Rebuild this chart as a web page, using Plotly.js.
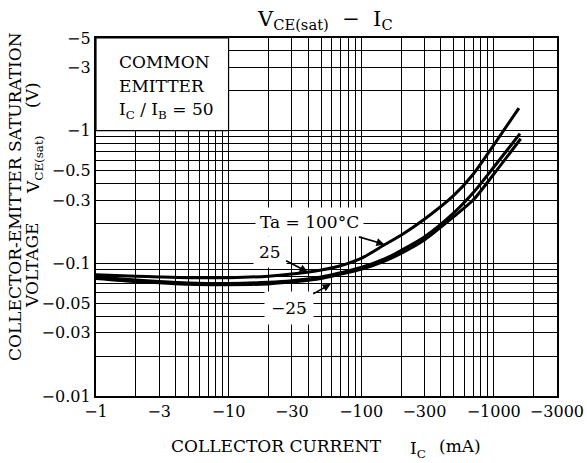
<!DOCTYPE html>
<html><head><meta charset="utf-8">
<script src="https://cdn.plot.ly/plotly-3.0.1.min.js"></script>
<style>html,body{margin:0;padding:0;background:#fff}#chart{width:587px;height:463px}</style>
</head><body><div id="chart"></div>
<script>
// Collector current |IC| (mA) and saturation voltage |VCE(sat)| (V), plotted as magnitudes
const ic100 = [1, 2, 3, 5, 10, 20, 30, 50, 70, 100, 150, 200, 300, 500, 700, 1000, 1550];
const vce100 = [0.082, 0.080, 0.079, 0.078, 0.078, 0.080, 0.083, 0.089, 0.096, 0.109, 0.138, 0.163, 0.215, 0.325, 0.47, 0.78, 1.48];
const ic25 = [1, 2, 3, 5, 10, 20, 30, 50, 70, 100, 150, 200, 300, 500, 700, 1000, 1580];
const vce25 = [0.079, 0.075, 0.073, 0.0712, 0.0705, 0.072, 0.074, 0.079, 0.085, 0.093, 0.108, 0.125, 0.158, 0.24, 0.34, 0.53, 0.95];
const icM25 = [1, 2, 3, 5, 10, 20, 30, 50, 70, 100, 150, 200, 300, 500, 700, 1000, 1600];
const vceM25 = [0.077, 0.073, 0.0715, 0.0695, 0.069, 0.070, 0.0725, 0.077, 0.083, 0.090, 0.104, 0.119, 0.150, 0.225, 0.30, 0.47, 0.87];

// grid / tick values
const xGrid = [1,2,3,4,5,6,7,8,9,10,20,30,40,50,60,70,80,90,100,200,300,400,500,600,700,800,900,1000,2000,3000];
const xLabeled = [1, 3, 10, 30, 100, 300, 1000, 3000];
const yGrid = [0.01,0.02,0.03,0.04,0.05,0.06,0.07,0.08,0.09,0.1,0.2,0.3,0.4,0.5,0.6,0.7,0.8,0.9,1,2,3,4,5];
const yLabeled = [0.01, 0.03, 0.05, 0.1, 0.3, 0.5, 1, 3, 5];

const FONT = 'DejaVu Serif';
const M = {l: 96, r: 30, t: 38, b: 67};
const W = 587, H = 463;
const PW = W - M.l - M.r, PH = H - M.t - M.b;
const px = x => (x - M.l) / PW;
const py = y => (M.t + PH - y) / PH;

const xRange = [0, Math.log10(3000) + 0.0005];
const yRange = [-2, Math.log10(5)];

function lbl(v) { return '\u2212' + String(v); }

const line = {color: '#000', width: 3, shape: 'spline', smoothing: 0.7};
const traces = [
  {x: ic100, y: vce100, mode: 'lines', line: line, name: '100', hoverinfo: 'skip'},
  {x: ic25, y: vce25, mode: 'lines', line: line, name: '25', hoverinfo: 'skip'},
  {x: icM25, y: vceM25, mode: 'lines', line: line, name: '-25', hoverinfo: 'skip'}
];

const tf = {family: FONT, size: 16, color: '#000'};
const af = {family: FONT, size: 17, color: '#000'};

const annotations = [
  // title
  {text: 'V<sub>CE(sat)</sub>  \u2212  I<sub>C</sub>', xref: 'paper', yref: 'paper', x: px(325), y: py(20),
   showarrow: false, font: {family: FONT, size: 21, color: '#000'}, xanchor: 'center', yanchor: 'middle'},
  // y-axis title pieces
  {text: 'COLLECTOR-EMITTER SATURATION', xref: 'paper', yref: 'paper', x: px(15), y: py(197),
   textangle: -90, showarrow: false, font: af, xanchor: 'center', yanchor: 'middle'},
  {text: 'VOLTAGE', xref: 'paper', yref: 'paper', x: px(32), y: py(265),
   textangle: -90, showarrow: false, font: af, xanchor: 'center', yanchor: 'middle'},
  {text: 'V<sub>CE(sat)</sub>', xref: 'paper', yref: 'paper', x: px(34), y: py(165),
   textangle: -90, showarrow: false, font: af, xanchor: 'center', yanchor: 'middle'},
  {text: '(V)', xref: 'paper', yref: 'paper', x: px(32), y: py(95),
   textangle: -90, showarrow: false, font: af, xanchor: 'center', yanchor: 'middle'},
  // x-axis title pieces
  {text: 'COLLECTOR CURRENT', xref: 'paper', yref: 'paper', x: px(276), y: py(446),
   showarrow: false, font: af, xanchor: 'center', yanchor: 'middle'},
  {text: 'I<sub>C</sub>', xref: 'paper', yref: 'paper', x: px(418), y: py(449),
   showarrow: false, font: af, xanchor: 'center', yanchor: 'middle'},
  {text: '(mA)', xref: 'paper', yref: 'paper', x: px(460), y: py(446),
   showarrow: false, font: af, xanchor: 'center', yanchor: 'middle'},
  // condition box text
  {text: 'COMMON', xref: 'paper', yref: 'paper', x: px(117), y: py(62),
   showarrow: false, font: af, xanchor: 'left', yanchor: 'middle'},
  {text: 'EMITTER', xref: 'paper', yref: 'paper', x: px(117), y: py(86),
   showarrow: false, font: af, xanchor: 'left', yanchor: 'middle'},
  {text: 'I<sub>C</sub> / I<sub>B</sub> = 50', xref: 'paper', yref: 'paper', x: px(117), y: py(110),
   showarrow: false, font: af, xanchor: 'left', yanchor: 'middle'},
  // curve labels
  {text: 'Ta = 100\u00b0C', x: Math.log10(150), y: Math.log10(0.139), ax: -75, ay: -22,
   showarrow: true, arrowhead: 2, arrowsize: 1, arrowwidth: 1.6, arrowcolor: '#000',
   font: af, bgcolor: '#fff', borderpad: 4},
  {text: '25', x: Math.log10(39.5), y: Math.log10(0.086), ax: -38, ay: -20,
   showarrow: true, arrowhead: 2, arrowsize: 1, arrowwidth: 1.6, arrowcolor: '#000',
   font: af, bgcolor: '#fff', borderpad: 5},
  {text: '\u221225', x: Math.log10(59), y: Math.log10(0.070), ax: -42, ay: 24,
   showarrow: true, arrowhead: 2, arrowsize: 1, arrowwidth: 1.6, arrowcolor: '#000',
   font: af, bgcolor: '#fff', borderpad: 6}
];

const boxX1 = (Math.log10(10) - xRange[0]) / (xRange[1] - xRange[0]);
const boxY0 = (Math.log10(1) - yRange[0]) / (yRange[1] - yRange[0]);

const layout = {
  width: W, height: H,
  margin: M,
  paper_bgcolor: '#fff', plot_bgcolor: '#fff',
  showlegend: false,
  font: {family: FONT, color: '#000'},
  xaxis: {
    type: 'log', range: xRange,
    tickmode: 'array', tickvals: xGrid,
    ticktext: xGrid.map(v => xLabeled.includes(v) ? lbl(v) : ''),
    ticks: '', tickfont: tf,
    showgrid: true, gridcolor: '#000', gridwidth: 1,
    showline: true, mirror: true, linecolor: '#000', linewidth: 2.2,
    zeroline: false, fixedrange: true
  },
  yaxis: {
    type: 'log', range: yRange,
    tickmode: 'array', tickvals: yGrid,
    ticktext: yGrid.map(v => yLabeled.includes(v) ? lbl(v) : ''),
    ticks: '', tickfont: tf,
    showgrid: true, gridcolor: '#000', gridwidth: 1,
    showline: true, mirror: true, linecolor: '#000', linewidth: 2.2,
    zeroline: false, fixedrange: true
  },
  shapes: [
    {type: 'rect', xref: 'paper', yref: 'paper', x0: 0, x1: boxX1, y0: boxY0, y1: 1,
     fillcolor: '#fff', line: {color: '#000', width: 1.2}, layer: 'above'}
  ],
  annotations: annotations
};

Plotly.newPlot('chart', traces, layout, {staticPlot: true, displayModeBar: false});
</script></body></html>
